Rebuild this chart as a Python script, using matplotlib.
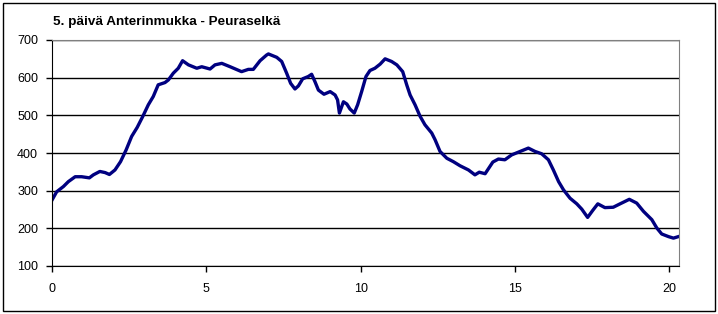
import matplotlib
matplotlib.use("Agg")
import matplotlib.pyplot as plt
from matplotlib.patches import Rectangle

# distance (km) and elevation (m)
km = [0.00, 0.15, 0.37, 0.53, 0.75, 0.96, 1.21, 1.34, 1.55, 1.72, 1.86, 2.04,
      2.22, 2.40, 2.58, 2.76, 2.94, 3.12, 3.28, 3.44, 3.66, 3.77, 3.93, 4.09,
      4.23, 4.42, 4.69, 4.85, 5.12, 5.28, 5.50, 5.77, 6.14, 6.36, 6.52, 6.74,
      6.95, 7.01, 7.28, 7.44, 7.60, 7.73, 7.87, 7.98, 8.12, 8.30, 8.41, 8.52,
      8.63, 8.81, 9.01, 9.17, 9.25, 9.31, 9.44, 9.55, 9.65, 9.79, 9.90, 10.03,
      10.17, 10.30, 10.46, 10.63, 10.79, 11.00, 11.17, 11.36, 11.49, 11.60,
      11.76, 11.92, 12.08, 12.30, 12.41, 12.57, 12.79, 13.00, 13.22, 13.49,
      13.70, 13.84, 14.03, 14.28, 14.46, 14.67, 14.89, 15.16, 15.43, 15.65,
      15.86, 16.08, 16.24, 16.41, 16.57, 16.78, 17.00, 17.16, 17.35, 17.51,
      17.68, 17.91, 18.18, 18.40, 18.70, 18.94, 19.16, 19.43, 19.59, 19.75,
      19.97, 20.13, 20.29]
elev = [275, 297, 311, 324, 337, 337, 334, 342, 351, 348, 343, 355,
        377, 408, 444, 468, 497, 528, 550, 581, 587, 594, 612, 625,
        645, 634, 625, 629, 623, 634, 638, 629, 616, 622, 622, 645,
        660, 663, 654, 643, 612, 585, 570, 578, 597, 603, 609, 589,
        567, 556, 563, 554, 541, 506, 536, 530, 517, 506, 528, 563,
        603, 619, 625, 636, 650, 643, 634, 616, 581, 554,
        528, 498, 475, 453, 435, 404, 386, 377, 366, 355,
        342, 349, 345, 376, 384, 382, 395, 404, 413, 404,
        398, 382, 355, 324, 302, 280, 265, 251, 229, 247,
        265, 255, 256, 265, 277, 267, 245, 223, 201, 185,
        178, 174, 178]

title = "5. päivä Anterinmukka - Peuraselkä"
yticks = [100, 200, 300, 400, 500, 600, 700]
xticks = [0, 5, 10, 15, 20]

plt.rcParams['font.family'] = ['Liberation Sans', 'DejaVu Sans']

fig = plt.figure(figsize=(7.18, 3.14), dpi=100)
ax = fig.add_axes([52/718, 1-266/314, 627/718, 226/314])

ax.plot(km, elev, color='#000080', linewidth=2.4, solid_joinstyle='round')

ax.set_xlim(0, 20.31)
ax.set_ylim(100, 700)
ax.set_yticks(yticks)
ax.set_xticks(xticks)
ax.yaxis.grid(True, color='black', linewidth=1.0)
ax.set_axisbelow(True)

for s in ['top', 'right']:
    ax.spines[s].set_color('#808080')
for s in ['left', 'bottom']:
    ax.spines[s].set_color('black')

ax.tick_params(axis='both', direction='out', length=4, width=1, labelsize=9,
               colors='black')
ax.tick_params(axis='y', pad=6)
ax.tick_params(axis='x', pad=8)

fig.text(53/718, 1-22/314, title, fontsize=9.7, fontweight='bold',
         ha='left', va='center')

fig.patches.append(Rectangle((3/718, 3/314), 712/718, 308/314,
                             transform=fig.transFigure, fill=False,
                             edgecolor='black', linewidth=1.0))

fig.savefig('out.png', dpi=100)
